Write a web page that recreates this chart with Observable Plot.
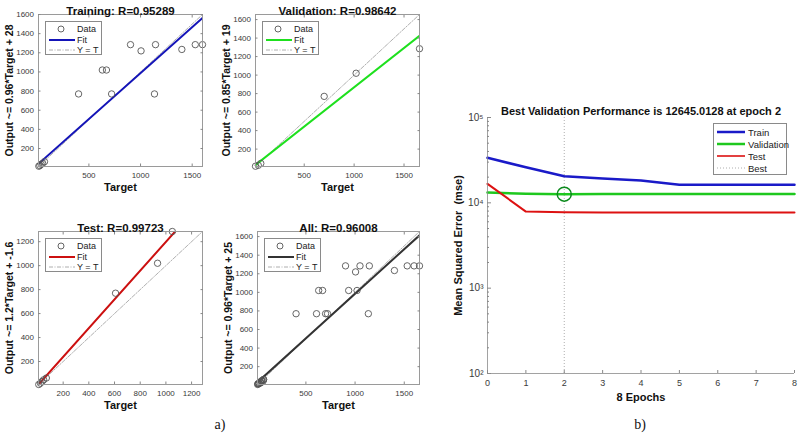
<!DOCTYPE html>
<html><head><meta charset="utf-8">
<script src="https://cdn.jsdelivr.net/npm/d3@7"></script>
<script src="https://cdn.jsdelivr.net/npm/@observablehq/plot@0.6"></script>
<style>
body{margin:0;background:#fff;}
#root{position:relative;width:800px;height:434px;font-family:"Liberation Sans",Arial,sans-serif;overflow:hidden;}
.panel{position:absolute;}
.legend{position:absolute;background:#fff;border:1px solid #8a8a8a;box-sizing:border-box;font-size:9px;color:#222;padding-top:2px;white-space:nowrap;}
.legend .row{display:flex;align-items:center;height:10.5px;}
.legend svg{display:block;margin-right:2px;flex:none;}
.cap{position:absolute;font-family:"Liberation Serif","Times New Roman",serif;font-size:14px;color:#111;transform:translate(-50%,-50%);}
</style></head><body><div id="root"></div>
<script>
// ---------- Regression data (Target, Output) ----------
const trainTarget = [15, 25, 38, 52, 70, 400, 720, 630, 670, 903, 1005, 1145, 1135, 1400, 1530, 1600];
const trainOutput = [15, 22, 35, 45, 62, 770, 770, 1020, 1020, 1285, 1220, 1285, 770, 1235, 1285, 1285];
const valTarget = [12, 40, 65, 700, 1020, 1655];
const valOutput = [15, 25, 45, 770, 1020, 1285];
const testTarget = [10, 23, 36, 48, 69, 608, 935, 1050];
const testOutput = [8, 19, 33, 47, 62, 770, 1020, 1285];

const trainLimits = [12, 1600];
const valLimits = [12, 1655];
const testLimits = [8, 1285];
const allLimits = [8, 1655];

const fitSlope = {train: 0.96, val: 0.85, test: 1.2, all: 0.96};
const fitIntercept = {train: 28, val: 19, test: -1.6, all: 25};

const ticks1600 = [200, 400, 600, 800, 1000, 1200, 1400, 1600];
const ticks1200 = [200, 400, 600, 800, 1000, 1200];
const ticksX500 = [500, 1000, 1500];

// ---------- Performance data ----------
const epochs = [0, 1, 2, 3, 4, 5, 6, 7, 8];
const trainPerf = [33700, 26100, 20500, 19300, 18300, 16300, 16300, 16300, 16300];
const valPerf = [13200, 12800, 12645, 12680, 12680, 12680, 12680, 12680, 12680];
const testPerf = [16700, 7900, 7750, 7700, 7700, 7700, 7700, 7700, 7700];
const bestEpoch = 2;
const bestValue = 12645.0128;

const root = document.getElementById("root");
const baseStyle = {fontFamily: "'Liberation Sans', Arial, sans-serif", fontSize: "8px", color: "#3a3a3a", background: "transparent", overflow: "visible"};
const plain = d => String(d);

function place(el, left, top) {
  const d = document.createElement("div");
  d.className = "panel";
  d.style.left = left + "px"; d.style.top = top + "px";
  d.appendChild(el);
  root.appendChild(d);
}

function regPanel(o) {
  const pts = o.target.map((t, i) => ({t, y: o.output[i]}));
  const fitPts = o.limits.map(t => ({t, y: o.slope * t + o.intercept}));
  const idPts = o.limits.map(t => ({t, y: t}));
  const svg = Plot.plot({
    width: 38 + o.fw + 6, height: 14 + o.fh + 36,
    marginLeft: 38, marginRight: 6, marginTop: 14, marginBottom: 36,
    x: {domain: o.limits}, y: {domain: o.limits},
    style: baseStyle,
    marks: [
      Plot.line(idPts, {x: "t", y: "y", stroke: "#9a9a9a", strokeWidth: 0.8, strokeDasharray: "4,1.5,1,1.5"}),
      Plot.line(fitPts, {x: "t", y: "y", stroke: o.color, strokeWidth: 2, clip: true}),
      Plot.dot(pts, {x: "t", y: "y", r: 3.2, stroke: "#555", strokeWidth: 0.9, fill: "none"}),
      Plot.frame({stroke: "#9a9a9a"}),
      Plot.axisX({ticks: o.xticks, tickSize: -2.5, tickPadding: 8, tickFormat: plain, label: null, stroke: "#888"}),
      Plot.axisX({anchor: "top", ticks: o.xticks, tickSize: -2.5, tickFormat: () => "", label: null, stroke: "#888"}),
      Plot.axisY({ticks: o.yticks, tickSize: -2.5, tickPadding: 7, tickFormat: plain, label: null, stroke: "#888"}),
      Plot.axisY({anchor: "right", ticks: o.yticks, tickSize: -2.5, tickFormat: () => "", label: null, stroke: "#888"}),
      Plot.text([o.title], {text: d => d, frameAnchor: "top", dy: -8, fontWeight: "bold", fontSize: 11.5, fill: "#111"}),
      Plot.text(["Target"], {text: d => d, frameAnchor: "bottom", dy: 24, fontWeight: "bold", fontSize: 11, fill: "#111"}),
      Plot.text([o.ylabel], {text: d => d, frameAnchor: "left", textAnchor: "middle", dx: -29, rotate: -90, fontWeight: "bold", fontSize: 10.5, fill: "#111"})
    ]
  });
  place(svg, o.fx - 38, o.fy - 14);
  const lg = document.createElement("div");
  lg.className = "legend";
  lg.style.left = (o.fx + 7) + "px"; lg.style.top = (o.fy + 7) + "px";
  lg.style.width = "57px"; lg.style.height = "34px";
  lg.innerHTML =
    `<div class="row"><svg width="29" height="10"><circle cx="15" cy="5" r="3" fill="none" stroke="#555" stroke-width="0.9"/></svg><span>Data</span></div>` +
    `<div class="row"><svg width="29" height="10"><line x1="3" y1="5" x2="29" y2="5" stroke="${o.color}" stroke-width="2"/></svg><span>Fit</span></div>` +
    `<div class="row"><svg width="29" height="10"><line x1="3" y1="5" x2="29" y2="5" stroke="#9a9a9a" stroke-width="0.8" stroke-dasharray="4,1.5,1,1.5"/></svg><span>Y = T</span></div>`;
  root.appendChild(lg);
}

regPanel({fx: 38, fy: 14, fw: 164, fh: 152, target: trainTarget, output: trainOutput, limits: trainLimits,
  slope: fitSlope.train, intercept: fitIntercept.train, color: "#1414b8", xticks: ticksX500, yticks: ticks1600,
  title: "Training: R=0.95289", ylabel: "Output ~= 0.96*Target + 28"});
regPanel({fx: 255, fy: 14, fw: 164, fh: 152, target: valTarget, output: valOutput, limits: valLimits,
  slope: fitSlope.val, intercept: fitIntercept.val, color: "#1ee01e", xticks: ticksX500, yticks: ticks1600,
  title: "Validation: R=0.98642", ylabel: "Output ~= 0.85*Target + 19"});
regPanel({fx: 38, fy: 231, fw: 164, fh: 153, target: testTarget, output: testOutput, limits: testLimits,
  slope: fitSlope.test, intercept: fitIntercept.test, color: "#cc1010", xticks: ticks1200, yticks: ticks1200,
  title: "Test: R=0.99723", ylabel: "Output ~= 1.2*Target + -1.6"});
regPanel({fx: 257, fy: 231, fw: 162, fh: 153,
  target: trainTarget.concat(valTarget, testTarget), output: trainOutput.concat(valOutput, testOutput), limits: allLimits,
  slope: fitSlope.all, intercept: fitIntercept.all, color: "#333333", xticks: ticksX500, yticks: ticks1600,
  title: "All: R=0.96008", ylabel: "Output ~= 0.96*Target + 25"});

// ---------- Performance panel ----------
const sup = "⁰¹²³⁴⁵⁶⁷⁸⁹";
const fmtPow = d => "10" + String(Math.round(Math.log10(d))).split("").map(c => sup[+c]).join("");
const majorY = [1e2, 1e3, 1e4, 1e5];
const minorY = [];
for (const p of [1e2, 1e3, 1e4]) for (let k = 2; k <= 9; k++) minorY.push(k * p);
const perfRows = [];
epochs.forEach((e, i) => {
  perfRows.push({e, v: trainPerf[i], s: "Train"});
  perfRows.push({e, v: valPerf[i], s: "Validation"});
  perfRows.push({e, v: testPerf[i], s: "Test"});
});
const perfColor = {Train: "#1a1ac8", Validation: "#1ec81e", Test: "#dd1111"};
const perfWidth = {Train: 2.5, Validation: 2.5, Test: 2};

const perf = Plot.plot({
  width: 370, height: 339,
  marginLeft: 57, marginRight: 6, marginTop: 22, marginBottom: 61,
  x: {domain: [0, 8]},
  y: {type: "log", domain: [100, 100000]},
  style: {...baseStyle, fontSize: "9px"},
  marks: [
    Plot.ruleX([bestEpoch], {stroke: "#9a9a9a", strokeWidth: 0.8, strokeDasharray: "1,2"}),
    ...["Train", "Validation", "Test"].map(s =>
      Plot.line(perfRows.filter(r => r.s === s), {x: "e", y: "v", stroke: perfColor[s], strokeWidth: perfWidth[s]})),
    Plot.dot([{e: bestEpoch, v: bestValue}], {x: "e", y: "v", r: 7, stroke: "#0b8a1c", strokeWidth: 1.5, fill: "none"}),
    Plot.ruleX([0], {stroke: "#8a8a8a", strokeWidth: 0.8}),
    Plot.ruleY([100], {stroke: "#8a8a8a", strokeWidth: 0.8}),
    Plot.axisX({ticks: epochs, tickSize: -3, tickPadding: 9, tickFormat: plain, label: null, stroke: "#888"}),
    Plot.axisY({ticks: minorY, tickSize: -2, tickFormat: () => "", label: null, stroke: "#888"}),
    Plot.axisY({ticks: majorY, tickSize: -4, tickPadding: 8, tickFormat: fmtPow, label: null, stroke: "#888", fontSize: 10}),
    Plot.text(["Best Validation Performance is 12645.0128 at epoch 2"], {text: d => d, frameAnchor: "top", dy: -10, fontWeight: "bold", fontSize: 11, fill: "#111"}),
    Plot.text(["8 Epochs"], {text: d => d, frameAnchor: "bottom", dy: 27, fontWeight: "bold", fontSize: 11, fill: "#111"}),
    Plot.text(["Mean Squared Error  (mse)"], {text: d => d, frameAnchor: "left", textAnchor: "middle", dx: -29, rotate: -90, fontWeight: "bold", fontSize: 11, fill: "#111"})
  ]
});
place(perf, 430, 95);

const plg = document.createElement("div");
plg.className = "legend";
plg.style.left = "713px"; plg.style.top = "123px"; plg.style.width = "74px"; plg.style.height = "52px";
plg.style.fontSize = "9.5px"; plg.style.paddingTop = "2px";
const plgRows = [["Train", perfColor.Train, 2.5, ""], ["Validation", perfColor.Validation, 2.5, ""], ["Test", perfColor.Test, 1.6, ""], ["Best", "#9a9a9a", 0.8, "1,2"]];
plg.innerHTML = plgRows.map(([n, c, w, da]) =>
  `<div class="row" style="height:12px"><svg width="32" height="10"><line x1="3" y1="5" x2="31" y2="5" stroke="${c}" stroke-width="${w}" ${da ? `stroke-dasharray="${da}"` : ""}/></svg><span>${n}</span></div>`).join("");
root.appendChild(plg);

for (const [t, x, y] of [["a)", 220, 425], ["b)", 640, 425]]) {
  const c = document.createElement("div");
  c.className = "cap"; c.textContent = t;
  c.style.left = x + "px"; c.style.top = y + "px";
  root.appendChild(c);
}
</script></body></html>
